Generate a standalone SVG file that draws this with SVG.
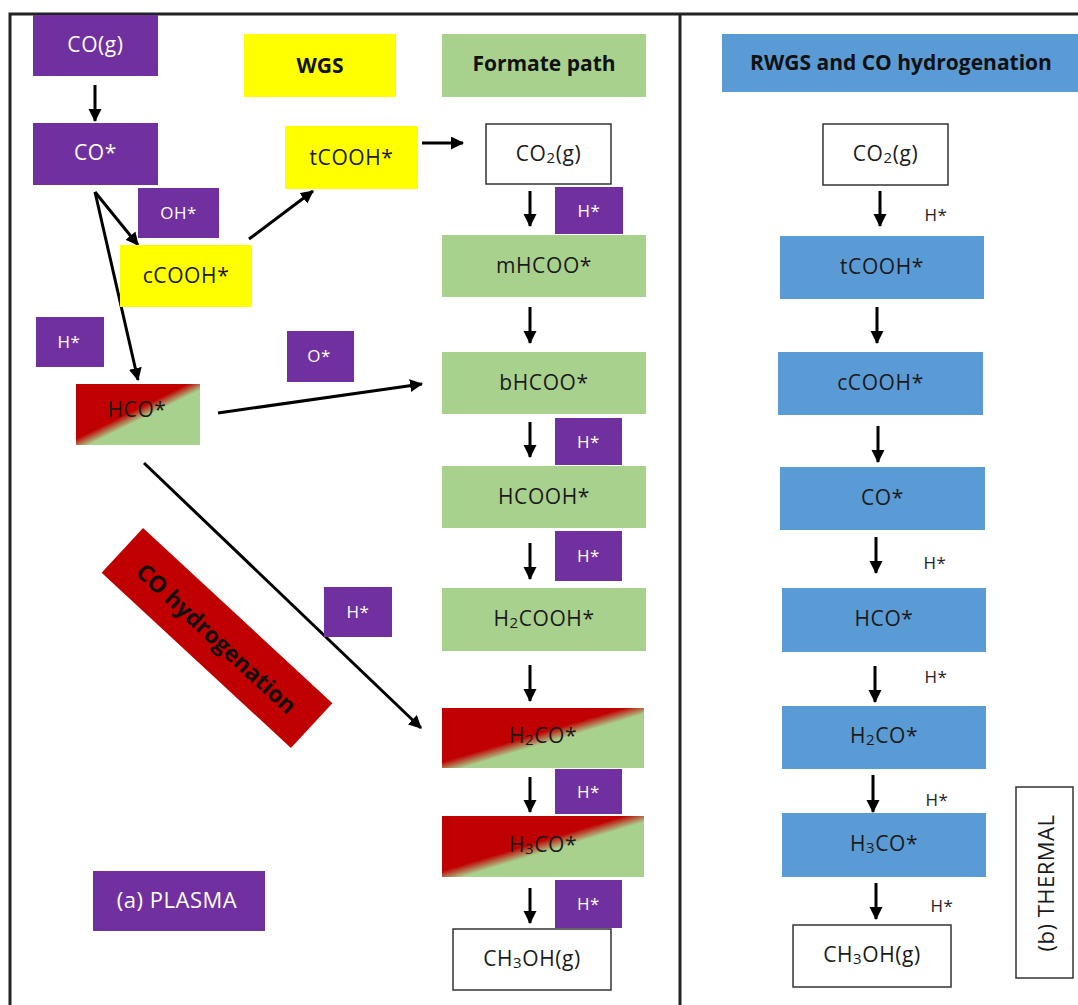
<svg xmlns="http://www.w3.org/2000/svg" width="1078" height="1005" viewBox="0 0 1078 1005">
<style>
text{font-family:"Open Sans","Noto Sans","Liberation Sans",sans-serif;text-anchor:middle;dominant-baseline:central}
.lbl{font-size:21px;letter-spacing:0.6px;fill:#1a1a1a}
.wl{font-size:21px;letter-spacing:0.6px;fill:#ffffff}
.sm{font-size:17px;letter-spacing:0.5px;fill:#ffffff}
.hk{font-size:17px;letter-spacing:0.5px;fill:#222}
.ttl{font-size:21px;font-weight:bold;fill:#111}
.pur{fill:#7030A0}
.yel{fill:#FFFF00}
.grn{fill:#A9D18E}
.blu{fill:#5B9BD5}
.wht{fill:#ffffff;stroke:#333;stroke-width:1.5}
.grad{fill:url(#rg)}
.frame{stroke:#222;stroke-width:3;fill:none}
.arr{stroke:#000;stroke-width:3;fill:none;marker-end:url(#ah)}
</style>
<defs>
<marker id="ah" markerUnits="userSpaceOnUse" markerWidth="14" markerHeight="14" refX="12" refY="6.5" orient="auto">
<path d="M0,0 L13,6.5 L0,13 z" fill="#000"/>
</marker>
<linearGradient id="rg" x1="0" y1="0" x2="1" y2="1">
<stop offset="0.45" stop-color="#C00000"/>
<stop offset="0.55" stop-color="#A9D18E"/>
</linearGradient>
</defs>
<rect x="0" y="0" width="1078" height="1005" fill="#fff"/>
<g id="frame">
<path class="frame" d="M10,1005 V14 H1078"/>
<path class="frame" d="M680,14 V1005"/>
</g>
<g id="connectors">
<line class="arr" x1="95" y1="85" x2="95" y2="121"/>
<line class="arr" x1="95" y1="192" x2="138" y2="245"/>
<line class="arr" x1="95" y1="192" x2="138" y2="380"/>
<line class="arr" x1="249" y1="239" x2="313" y2="191"/>
<line class="arr" x1="422" y1="143" x2="463" y2="143"/>
<line class="arr" x1="218" y1="413" x2="422" y2="384"/>
<line class="arr" x1="144" y1="463" x2="421" y2="728"/>
<line class="arr" x1="530" y1="191" x2="530" y2="226"/>
<line class="arr" x1="530" y1="307" x2="530" y2="343"/>
<line class="arr" x1="530" y1="422" x2="530" y2="457"/>
<line class="arr" x1="530" y1="543" x2="530" y2="579"/>
<line class="arr" x1="530" y1="665" x2="530" y2="701"/>
<line class="arr" x1="530" y1="777" x2="530" y2="812"/>
<line class="arr" x1="530" y1="888" x2="530" y2="923"/>
<line class="arr" x1="880" y1="191" x2="880" y2="226"/>
<line class="arr" x1="877" y1="307" x2="877" y2="343"/>
<line class="arr" x1="878" y1="426" x2="878" y2="462"/>
<line class="arr" x1="876" y1="537" x2="876" y2="573"/>
<line class="arr" x1="875" y1="666" x2="875" y2="702"/>
<line class="arr" x1="873" y1="775" x2="873" y2="812"/>
<line class="arr" x1="876" y1="883" x2="876" y2="919"/>
</g>
<g id="co_g"><rect class="pur" x="33" y="15" width="125" height="61"/><text class="wl" x="95.5" y="44">CO(g)</text></g>
<g id="wgs"><rect class="yel" x="244" y="34" width="152" height="63"/><text class="ttl" x="320" y="65">WGS</text></g>
<g id="formate"><rect class="grn" x="442" y="34" width="204" height="63"/><text class="ttl" x="544" y="63">Formate path</text></g>
<g id="co_ads"><rect class="pur" x="33" y="123" width="125" height="62"/><text class="wl" x="95.5" y="152">CO*</text></g>
<g id="tcooh"><rect class="yel" x="285" y="126" width="133" height="63"/><text class="lbl" x="351.5" y="157">tCOOH*</text></g>
<g id="co2_a"><rect class="wht" x="486" y="124" width="125" height="60"/><text class="lbl" x="548.5" y="153">CO<tspan font-size="15" dy="4">2</tspan><tspan dy="-4">(g)</tspan></text></g>
<g id="h1"><rect class="pur" x="555" y="187" width="68" height="47"/><text class="sm" x="589" y="210">H*</text></g>
<g id="oh"><rect class="pur" x="138" y="188" width="81" height="50"/><text class="sm" x="178.5" y="212">OH*</text></g>
<g id="ccooh"><rect class="yel" x="120" y="245" width="132" height="62"/><text class="lbl" x="186" y="275">cCOOH*</text></g>
<g id="mhcoo"><rect class="grn" x="442" y="235" width="204" height="62"/><text class="lbl" x="544" y="265">mHCOO*</text></g>
<g id="h_left"><rect class="pur" x="36" y="317" width="68" height="50"/><text class="sm" x="69" y="341">H*</text></g>
<g id="o_ads"><rect class="pur" x="287" y="331" width="67" height="51"/><text class="sm" x="319" y="355">O*</text></g>
<g id="hco_a"><rect class="grad" x="76" y="384" width="124" height="61"/><text class="lbl" x="137" y="409">HCO*</text></g>
<g id="bhcoo"><rect class="grn" x="442" y="352" width="204" height="62"/><text class="lbl" x="544" y="382">bHCOO*</text></g>
<g id="h2"><rect class="pur" x="555" y="418" width="67" height="47"/><text class="sm" x="588.5" y="441">H*</text></g>
<g id="hcooh"><rect class="grn" x="442" y="466" width="204" height="62"/><text class="lbl" x="544" y="496">HCOOH*</text></g>
<g id="h3"><rect class="pur" x="555" y="531" width="67" height="50"/><text class="sm" x="588.5" y="555">H*</text></g>
<g id="h2cooh"><rect class="grn" x="442" y="588" width="204" height="63"/><text class="lbl" x="544" y="618">H<tspan font-size="15" dy="4">2</tspan><tspan dy="-4">COOH*</tspan></text></g>
<g id="h_mid"><rect class="pur" x="324" y="587" width="68" height="50"/><text class="sm" x="358" y="611">H*</text></g>
<g id="coh_banner"><g transform="rotate(42.8 217 638)"><rect fill="#C00000" x="88" y="607.5" width="258" height="61"/><text x="217" y="638" style="font-size:23px;font-weight:bold;fill:#111">CO hydrogenation</text></g></g>
<g id="h2co_a"><rect class="grad" x="442" y="708" width="202" height="60"/><text class="lbl" x="543" y="735">H<tspan font-size="15" dy="4">2</tspan><tspan dy="-4">CO*</tspan></text></g>
<g id="h4"><rect class="pur" x="555" y="769" width="67" height="45"/><text class="sm" x="588.5" y="791">H*</text></g>
<g id="h3co_a"><rect class="grad" x="442" y="816" width="202" height="61"/><text class="lbl" x="543" y="844">H<tspan font-size="15" dy="4">3</tspan><tspan dy="-4">CO*</tspan></text></g>
<g id="h5"><rect class="pur" x="555" y="880" width="67" height="48"/><text class="sm" x="588.5" y="903">H*</text></g>
<g id="ch3oh_a"><rect class="wht" x="453" y="929" width="158" height="61"/><text class="lbl" x="532" y="958">CH<tspan font-size="15" dy="4">3</tspan><tspan dy="-4">OH(g)</tspan></text></g>
<g id="plasma"><rect class="pur" x="93" y="871" width="172" height="60"/><text class="wl" x="177" y="899" style="font-size:22px;letter-spacing:0.5px">(a) PLASMA</text></g>
<g id="rwgs"><rect class="blu" x="722" y="34" width="356" height="58"/><text class="ttl" x="901" y="62">RWGS and CO hydrogenation</text></g>
<g id="co2_b"><rect class="wht" x="823" y="124" width="125" height="61"/><text class="lbl" x="885.5" y="153">CO<tspan font-size="15" dy="4">2</tspan><tspan dy="-4">(g)</tspan></text></g>
<g id="rh1"><text class="hk" x="936" y="214">H*</text></g>
<g id="tcooh_b"><rect class="blu" x="780" y="236" width="204" height="63"/><text class="lbl" x="882" y="266">tCOOH*</text></g>
<g id="ccooh_b"><rect class="blu" x="778" y="352" width="205" height="63"/><text class="lbl" x="880.5" y="382">cCOOH*</text></g>
<g id="co_b"><rect class="blu" x="780" y="467" width="205" height="63"/><text class="lbl" x="882.5" y="497">CO*</text></g>
<g id="rh2"><text class="hk" x="935" y="562">H*</text></g>
<g id="hco_b"><rect class="blu" x="782" y="588" width="204" height="64"/><text class="lbl" x="884" y="618">HCO*</text></g>
<g id="rh3"><text class="hk" x="936" y="676">H*</text></g>
<g id="h2co_b"><rect class="blu" x="782" y="706" width="204" height="63"/><text class="lbl" x="884" y="735">H<tspan font-size="15" dy="4">2</tspan><tspan dy="-4">CO*</tspan></text></g>
<g id="rh4"><text class="hk" x="937" y="799">H*</text></g>
<g id="h3co_b"><rect class="blu" x="782" y="813" width="204" height="64"/><text class="lbl" x="884" y="843">H<tspan font-size="15" dy="4">3</tspan><tspan dy="-4">CO*</tspan></text></g>
<g id="rh5"><text class="hk" x="942" y="905">H*</text></g>
<g id="ch3oh_b"><rect class="wht" x="793" y="925" width="158" height="62"/><text class="lbl" x="872" y="954">CH<tspan font-size="15" dy="4">3</tspan><tspan dy="-4">OH(g)</tspan></text></g>
<g id="thermal"><rect class="wht" x="1016" y="787" width="57" height="191"/><text class="lbl" x="1045" y="883" transform="rotate(-90 1045 883)" style="font-size:22px;letter-spacing:0.5px">(b) THERMAL</text></g>
</svg>
